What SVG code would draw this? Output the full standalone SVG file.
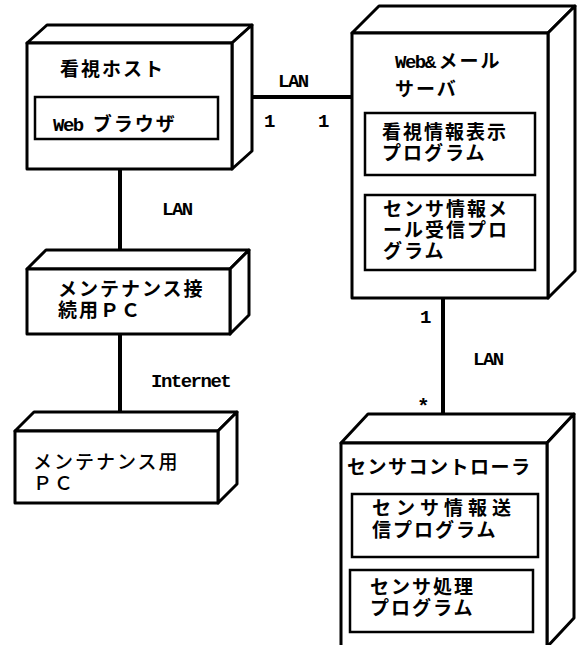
<svg xmlns="http://www.w3.org/2000/svg" width="579" height="645" viewBox="0 0 579 645">
<style>
.box{fill:#fff;stroke:#000;stroke-width:3;stroke-linejoin:round}
.inner{fill:#fff;stroke:#000;stroke-width:2.5}
.conn{stroke:#000;stroke-width:4;fill:none}
.jp{font-family:"Noto Sans CJK JP","Noto Sans CJK SC",sans-serif;font-weight:bold;font-size:19px;letter-spacing:2px;fill:#000}
.jpn{font-family:"Noto Sans CJK JP","Noto Sans CJK SC",sans-serif;font-weight:500;font-size:19px;letter-spacing:2px;fill:#000}
.mono{font-family:"Liberation Mono","DejaVu Sans Mono",monospace;font-weight:bold;font-size:19px;letter-spacing:-1.5px;fill:#000}
</style>
<rect width="579" height="645" fill="#fff"/>
<g id="connectors">
<line class="conn" x1="232" y1="97" x2="352" y2="97"/>
<line class="conn" x1="120" y1="169" x2="120" y2="250"/>
<line class="conn" x1="120" y1="334" x2="120" y2="412"/>
<line class="conn" x1="443" y1="298" x2="443" y2="428"/>
<text class="mono" x="278" y="87">LAN</text>
<text class="mono" x="264" y="127">1</text>
<text class="mono" x="318" y="127">1</text>
<text class="mono" x="162" y="215">LAN</text>
<text class="mono" x="151" y="387">Internet</text>
<text class="mono" x="420" y="323">1</text>
<text class="mono" x="473" y="365">LAN</text>
<text class="mono" x="417" y="413" style="font-size:21px">*</text>
</g>
<g id="monitor-host">
<polygon class="box" points="27,43 47,25 252,25 232,43"/>
<polygon class="box" points="232,43 252,25 252,151 232,169"/>
<rect class="box" x="27" y="43" width="205" height="126"/>
<text class="jp" x="60" y="76">看視ホスト</text>
<rect class="inner" x="35" y="97" width="183" height="42"/>
<text x="53" y="131"><tspan class="mono">Web</tspan><tspan class="jp" dx="10">ブラウザ</tspan></text>
</g>
<g id="web-mail-server">
<polygon class="box" points="352,33 379,6 575,6 548,33"/>
<polygon class="box" points="548,33 575,6 575,271 548,298"/>
<rect class="box" x="352" y="33" width="196" height="265"/>
<text x="395" y="68"><tspan class="mono">Web&amp;</tspan><tspan class="jp" dx="4">メール</tspan><tspan class="jp" x="395" y="96">サーバ</tspan></text>
<rect class="inner" x="365" y="113" width="170" height="62"/>
<text class="jp" x="382" y="139">看視情報表示<tspan x="382" dy="21">プログラム</tspan></text>
<rect class="inner" x="365" y="195" width="170" height="75"/>
<text class="jp" x="383" y="216">センサ情報メ<tspan x="383" dy="21">ール受信プロ</tspan><tspan x="383" dy="21">グラム</tspan></text>
</g>
<g id="maintenance-connect-pc">
<polygon class="box" points="27,269 46,250 249,250 230,269"/>
<polygon class="box" points="230,269 249,250 249,315 230,334"/>
<rect class="box" x="27" y="269" width="203" height="65"/>
<text class="jp" x="58" y="296">メンテナンス接<tspan x="58" dy="21">続用ＰＣ</tspan></text>
</g>
<g id="maintenance-pc">
<polygon class="box" points="15,431 34,412 237,412 218,431"/>
<polygon class="box" points="218,431 237,412 237,484 218,503"/>
<rect class="box" x="15" y="431" width="203" height="72"/>
<text class="jpn" x="33" y="469">メンテナンス用<tspan x="33" dy="21">ＰＣ</tspan></text>
</g>
<g id="sensor-controller">
<polygon class="box" points="341,443 368,414 574,414 547,443"/>
<polygon class="box" points="547,443 574,414 574,618 547,647"/>
<rect class="box" x="341" y="443" width="206" height="210"/>
<text class="jp" x="347" y="474" style="letter-spacing:1.5px">センサコントローラ</text>
<rect class="inner" x="352" y="494" width="186" height="63"/>
<text class="jp" x="372" y="515"><tspan style="letter-spacing:5px">センサ情報送</tspan><tspan x="372" dy="22">信プログラム</tspan></text>
<rect class="inner" x="350" y="570" width="183" height="62"/>
<text class="jp" x="370" y="594">センサ処理<tspan x="370" dy="21">プログラム</tspan></text>
</g>
</svg>
